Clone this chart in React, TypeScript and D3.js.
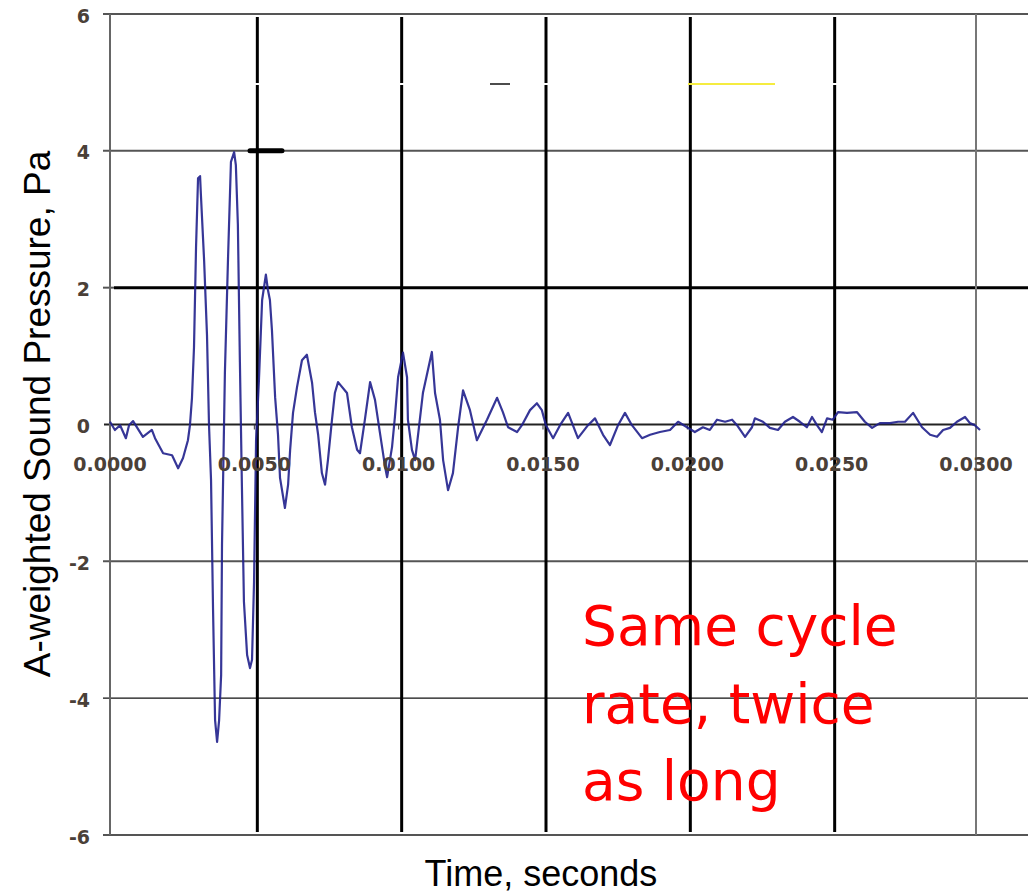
import React from "react";
import * as d3 from "d3";

// Waveform samples: time (s) and A-weighted sound pressure (Pa)
const timeSec = [
  0.0, 0.00017, 0.00035, 0.00055, 0.00066, 0.0008, 0.00114, 0.00145, 0.00156, 0.00184,
  0.00215, 0.00236, 0.00253, 0.0027, 0.00277, 0.00284, 0.00291, 0.00298, 0.00305, 0.00312,
  0.00315, 0.00326, 0.00336, 0.00343, 0.0035, 0.00357, 0.00364, 0.00371, 0.00378, 0.00385,
  0.00388, 0.00395, 0.00398, 0.00409, 0.00419, 0.0043, 0.00436, 0.00443, 0.0045, 0.00457,
  0.00464, 0.00475, 0.00485, 0.00492, 0.00499, 0.00506, 0.00516, 0.00527, 0.0054, 0.00547,
  0.00554, 0.00561, 0.00572, 0.00582, 0.00589, 0.00606, 0.00617, 0.00624, 0.00634, 0.00648,
  0.00665, 0.00682, 0.007, 0.0071, 0.00721, 0.00734, 0.00745, 0.00755, 0.00769, 0.00779,
  0.0079, 0.00821, 0.00838, 0.00856, 0.00866, 0.00883, 0.00901, 0.00918, 0.00935, 0.00953,
  0.0096, 0.00977, 0.00987, 0.00998, 0.01015, 0.01029, 0.01032, 0.01046, 0.01057, 0.01084,
  0.01115, 0.01126, 0.01143, 0.01154, 0.01171, 0.01188, 0.01206, 0.01223, 0.01247, 0.01271,
  0.01306, 0.01341, 0.01361, 0.01379, 0.0141, 0.01427, 0.01455, 0.01479, 0.01496, 0.0151,
  0.01535, 0.01559, 0.01587, 0.01621, 0.01656, 0.0168, 0.01708, 0.01732, 0.0176, 0.01784,
  0.01808, 0.01843, 0.01871, 0.01905, 0.0194, 0.01968, 0.01999, 0.02026, 0.02054, 0.02078,
  0.02103, 0.02131, 0.02155, 0.02172, 0.022, 0.02224, 0.02234, 0.02262, 0.02286, 0.02314,
  0.02338, 0.02366, 0.0239, 0.02414, 0.02432, 0.02449, 0.02466, 0.02484, 0.02504, 0.02522,
  0.02553, 0.02588, 0.02615, 0.0264, 0.02667, 0.02702, 0.0273, 0.02754, 0.02782, 0.02813,
  0.02841, 0.02865, 0.02886, 0.0291, 0.02934, 0.02962, 0.02979, 0.02996, 0.03014,
];

const pressurePa = [
  0.04, -0.08, -0.01, -0.2, -0.01, 0.05, -0.18, -0.08, -0.2, -0.42,
  -0.45, -0.64, -0.49, -0.23, -0.01, 0.39, 1.13, 2.58, 3.6, 3.63,
  3.35, 2.4, 1.31, -0.01, -0.81, -2.71, -4.32, -4.64, -4.32, -3.66,
  -1.76, -0.01, 0.75, 2.45, 3.84, 3.98, 3.79, 2.92, 0.91, -0.91,
  -2.59, -3.37, -3.56, -3.44, -2.3, -0.23, 0.65, 1.82, 2.19, 1.97,
  1.82, 1.38, 0.4, -0.15, -0.78, -1.22, -0.88, -0.37, 0.17, 0.55,
  0.94, 1.02, 0.61, 0.18, -0.15, -0.71, -0.88, -0.52, 0.07, 0.46,
  0.62, 0.46, -0.04, -0.37, -0.42, 0.07, 0.62, 0.36, -0.12, -0.62,
  -0.77, -0.33, 0.11, 0.69, 1.05, 0.69, 0.07, -0.37, -0.52, 0.46,
  1.06, 0.46, 0.07, -0.52, -0.96, -0.71, -0.04, 0.5, 0.21, -0.23,
  0.07, 0.39, 0.18, -0.04, -0.11, -0.01, 0.21, 0.31, 0.21, -0.01,
  -0.2, -0.01, 0.17, -0.2, -0.01, 0.09, -0.15, -0.3, -0.01, 0.17,
  -0.01, -0.2, -0.15, -0.11, -0.08, 0.04, -0.04, -0.11, -0.04, -0.08,
  0.07, 0.04, 0.07, -0.01, -0.18, -0.04, 0.09, 0.04, -0.05, -0.08,
  0.04, 0.11, 0.04, -0.04, 0.11, -0.01, -0.11, 0.09, 0.07, 0.18,
  0.17, 0.18, 0.04, -0.05, 0.02, 0.02, 0.04, 0.04, 0.17, -0.04,
  -0.15, -0.18, -0.08, -0.05, 0.04, 0.11, 0.02, -0.01, -0.08,
];

const yTicks = [6, 4, 2, 0, -2, -4, -6];
const xTicks = [0, 0.005, 0.01, 0.015, 0.02, 0.025, 0.03];
const markerTimes = [0.005, 0.01, 0.015, 0.02, 0.025];

const calloutLines = ["Same cycle", "rate, twice", "as long"];

const W = 1028;
const H = 896;

export default function App() {
  const x = d3.scaleLinear().domain([0, 0.03]).range([110, 976]);
  const y = d3.scaleLinear().domain([-6, 6]).range([835, 14]);

  const points = timeSec.map((t, i) => [t, pressurePa[i]] as [number, number]);
  const path = d3
    .line<[number, number]>()
    .x((d) => x(d[0]))
    .y((d) => y(d[1]))(points) as string;

  const tickFont = "'DejaVu Sans', Verdana, sans-serif";
  const tickColor = "#4a4038";

  // gridline styles per value
  const gridStyle = (v: number) => {
    if (v === 2) return { stroke: "#000", width: 3, x1: 114 };
    if (v === -4) return { stroke: "#111", width: 1.3, x1: 103 };
    if (v === 0) return { stroke: "#222", width: 2, x1: 104 };
    return { stroke: "#555", width: 2, x1: 103 };
  };

  return (
    <svg
      width={W}
      height={H}
      viewBox={`0 0 ${W} ${H}`}
      style={{ position: "absolute", left: 0, top: 0, background: "#fff" }}
    >
      <rect x={0} y={0} width={W} height={H} fill="#fff" />

      {/* horizontal gridlines */}
      {yTicks.map((v) => {
        const s = gridStyle(v);
        return (
          <line
            key={`g${v}`}
            x1={s.x1}
            x2={v === 0 ? 977 : W}
            y1={y(v)}
            y2={y(v)}
            stroke={s.stroke}
            strokeWidth={s.width}
          />
        );
      })}
      {/* tick stub left of axis for y=2 */}
      <line x1={103} x2={114} y1={y(2)} y2={y(2)} stroke="#555" strokeWidth={2} />

      {/* plot frame verticals */}
      <line x1={110} x2={110} y1={y(6)} y2={y(-6)} stroke="#666" strokeWidth={2} />
      <line x1={x(0.03)} x2={x(0.03)} y1={y(6)} y2={y(-6)} stroke="#777" strokeWidth={2} />

      {/* small x ticks on zero line */}
      {xTicks.slice(1, -1).map((t) => (
        <line
          key={`xt${t}`}
          x1={x(t)}
          x2={x(t)}
          y1={y(0)}
          y2={y(0) + 5}
          stroke="#333"
          strokeWidth={1}
        />
      ))}

      {/* bold vertical marker lines */}
      {markerTimes.map((t) => (
        <g key={`m${t}`}>
          <line x1={x(t) + 3} x2={x(t) + 3} y1={17} y2={83} stroke="#000" strokeWidth={3} />
          <line x1={x(t) + 3} x2={x(t) + 3} y1={85} y2={832} stroke="#000" strokeWidth={3} />
        </g>
      ))}

      {/* small stray marks near the top */}
      <line x1={250} x2={282} y1={y(4)} y2={y(4)} stroke="#000" strokeWidth={5} strokeLinecap="round" />
      <line x1={490} x2={510} y1={84} y2={84} stroke="#111" strokeWidth={1.5} />
      <line x1={688} x2={775} y1={84} y2={84} stroke="#f2e600" strokeWidth={1.5} />

      {/* waveform */}
      <path d={path} fill="none" stroke="#20208c" strokeWidth={2.2} strokeOpacity={0.9} strokeLinejoin="round" />

      {/* y tick labels */}
      {yTicks.map((v) => (
        <text
          key={`yl${v}`}
          x={90}
          y={y(v) + 3}
          textAnchor="end"
          dominantBaseline="middle"
          fontFamily={tickFont}
          fontWeight="bold"
          fontSize={19}
          fill={tickColor}
        >
          {String(v)}
        </text>
      ))}

      {/* x tick labels */}
      {xTicks.map((t) => (
        <text
          key={`xl${t}`}
          x={x(t)}
          y={471}
          textAnchor="middle"
          fontFamily={tickFont}
          fontWeight="bold"
          fontSize={19}
          fill={tickColor}
        >
          {d3.format(".4f")(t)}
        </text>
      ))}

      {/* axis titles */}
      <text
        transform={`translate(50, ${(150 + 678) / 2}) rotate(-90)`}
        textAnchor="middle"
        fontFamily="'Liberation Sans', Arial, sans-serif"
        fontSize={37}
        fill="#000"
      >
        A-weighted Sound Pressure, Pa
      </text>
      <text
        x={541}
        y={886}
        textAnchor="middle"
        fontFamily="'Liberation Sans', Arial, sans-serif"
        fontSize={36}
        fill="#000"
      >
        Time, seconds
      </text>

      {/* callout */}
      {calloutLines.map((line, i) => (
        <text
          key={line}
          x={582}
          y={645 + i * 77.5}
          fontFamily="'DejaVu Sans', Verdana, sans-serif"
          fontSize={55}
          fill="#ff0000"
        >
          {line}
        </text>
      ))}
    </svg>
  );
}
